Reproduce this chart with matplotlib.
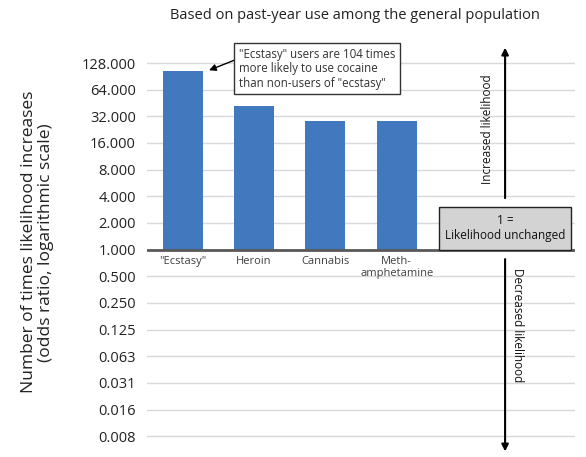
import matplotlib.pyplot as plt
from matplotlib.patches import Rectangle

plt.rcParams['font.family'] = ['Open Sans', 'DejaVu Sans']

categories = ['"Ecstasy"', 'Heroin', 'Cannabis', 'Meth-\namphetamine']
odds_ratios = [104, 41.5, 28.3, 28.2]
tick_values = [0.0078125, 0.015625, 0.03125, 0.0625, 0.125, 0.25, 0.5,
               1, 2, 4, 8, 16, 32, 64, 128]
tick_labels = ['0.008', '0.016', '0.031', '0.063', '0.125', '0.250', '0.500',
               '1.000', '2.000', '4.000', '8.000', '16.000', '32.000', '64.000', '128.000']

bar_color = '#4279be'
grid_color = '#d9d9d9'

fig = plt.figure(figsize=(5.86, 4.57), dpi=100)
ax = fig.add_axes([147 / 586, 1 - 455 / 457, 428 / 586, 413 / 457])

ax.set_yscale('log', base=2)
ax.set_ylim(0.0048, 221)
ax.set_xlim(-0.5, 5.5)

# bars grow from 1 (likelihood unchanged)
xs = list(range(len(categories)))
ax.bar(xs, [v - 1 for v in odds_ratios], bottom=1, width=0.56, color=bar_color, zorder=3)

ax.set_yticks(tick_values)
ax.set_yticklabels(tick_labels, fontsize=10.5, color='#222222')
ax.yaxis.set_minor_locator(plt.NullLocator())
ax.tick_params(axis='y', length=0, pad=8)
ax.set_xticks([])
for s in ax.spines.values():
    s.set_visible(False)
for v in tick_values:
    if v != 1:
        ax.axhline(v, color=grid_color, lw=1, zorder=1)
ax.axhline(1, color='#595959', lw=2, zorder=4)

for x, lab in zip(xs, categories):
    ax.text(x, 0.85, lab, ha='center', va='top', fontsize=8, color='#404040',
            linespacing=1.1)

ax.annotate('"Ecstasy" users are 104 times\nmore likely to use cocaine\nthan non-users of "ecstasy"',
            xy=(0.37, 106), xytext=(0.79, 110), fontsize=8.3, color='#333333',
            ha='left', va='center', linespacing=1.15,
            bbox=dict(boxstyle='square,pad=0.4', fc='white', ec='#333333', lw=1),
            arrowprops=dict(arrowstyle='-|>', color='black', lw=1, mutation_scale=10,
                            relpos=(0, 0.75), shrinkA=0, shrinkB=0),
            zorder=6)

# "1 = likelihood unchanged" box and direction arrows
ax.add_patch(Rectangle((3.595, 0.99), 1.85, 2.03, fc='#d3d3d3', ec='#222222', lw=1, zorder=5))
ax.text(4.52, 1.75, '1 =\nLikelihood unchanged', ha='center', va='center', fontsize=8.5,
        color='#111111', linespacing=1.25, zorder=6)

ax.annotate('', xy=(4.52, 205), xytext=(4.52, 3.55), annotation_clip=False,
            arrowprops=dict(arrowstyle='-|>', color='black', lw=1.5, mutation_scale=10))
ax.annotate('', xy=(4.52, 0.0049), xytext=(4.52, 0.84), annotation_clip=False,
            arrowprops=dict(arrowstyle='-|>', color='black', lw=1.5, mutation_scale=10))
ax.text(4.27, 23, 'Increased likelihood', rotation=90, ha='center', va='center',
        fontsize=8.5, color='#111111')
ax.text(4.7, 0.14, 'Decreased likelihood', rotation=-90, ha='center', va='center',
        fontsize=8.5, color='#111111')

fig.text(0.606, 0.967, 'Based on past-year use among the general population',
         ha='center', va='center', fontsize=10.5, color='#222222')
fig.text(0.064, 0.47, 'Number of times likelihood increases\n(odds ratio, logarithmic scale)',
         rotation=90, ha='center', va='center', fontsize=12.5, color='#222222',
         multialignment='center', linespacing=1.1)

fig.savefig('out.png', dpi=100)
